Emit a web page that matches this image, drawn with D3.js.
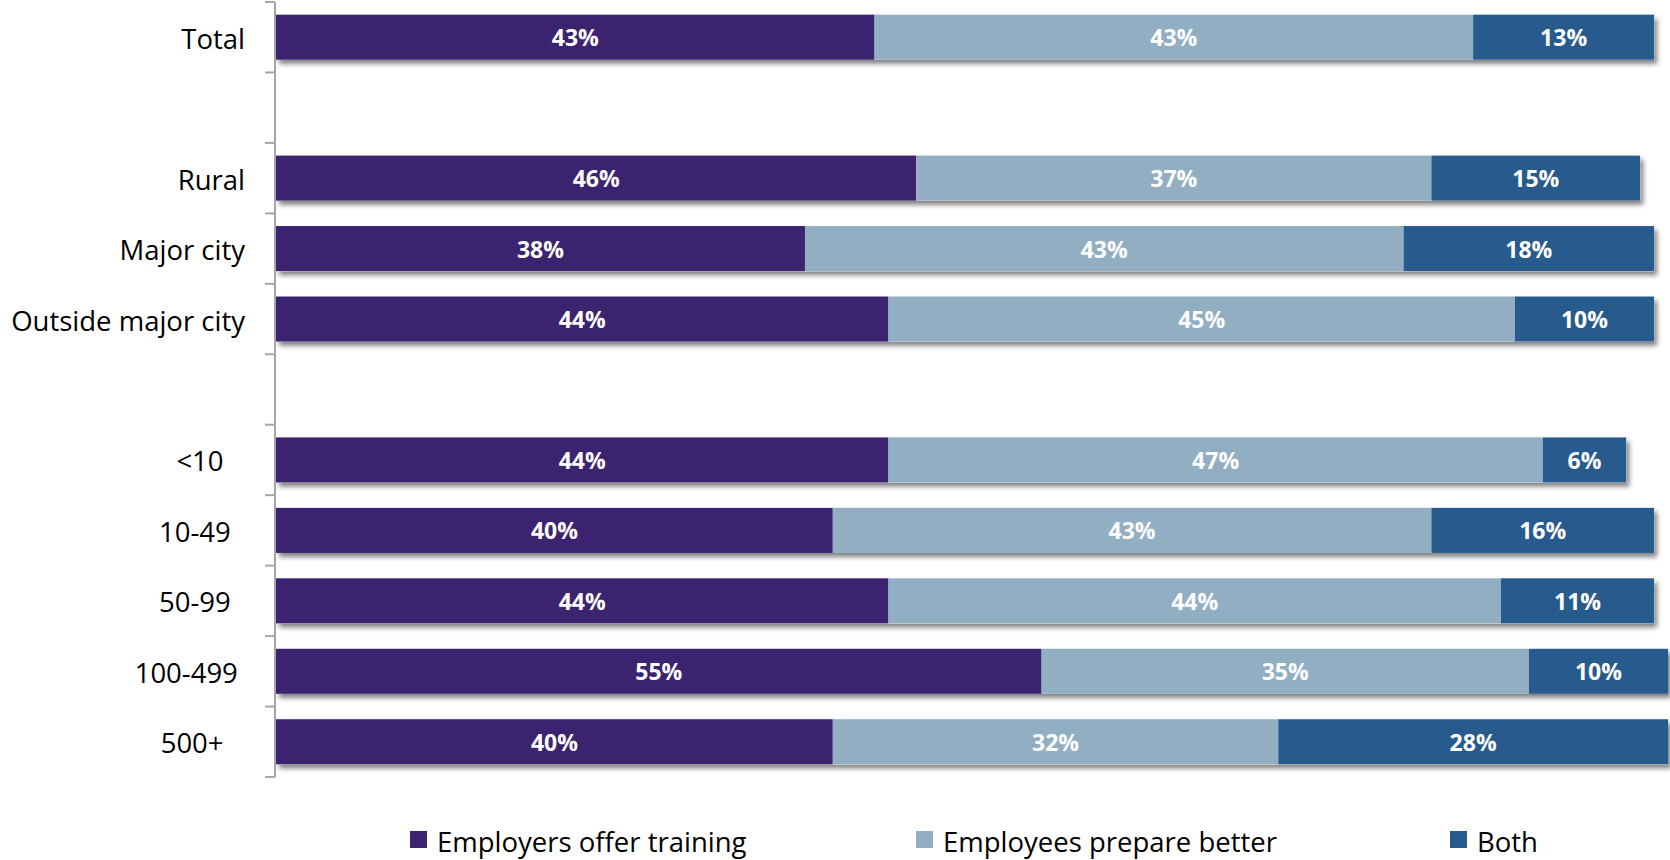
<!DOCTYPE html>
<html>
<head>
<meta charset="utf-8">
<script src="https://cdn.jsdelivr.net/npm/d3@7"></script>
<style>
  html, body { margin: 0; padding: 0; background: #fff; }
  svg { display: block; font-family: "Open Sans", "Noto Sans", sans-serif; }
  .cat { white-space: pre; }
</style>
</head>
<body>
<svg id="chart" width="1670" height="860"></svg>
<script>
// Row labels (empty rows are spacers between groups)
const categories = ["Total", "", "Rural", "Major city", "Outside major city", "",
                    "<10   ", "10-49  ", "50-99  ", "100-499 ", "500+   "];
const seriesNames = ["Employers offer training", "Employees prepare better", "Both"];
const employersOffer  = [43, null, 46, 38, 44, null, 44, 40, 44, 55, 40];
const employeesPrep   = [43, null, 37, 43, 45, null, 47, 43, 44, 35, 32];
const both            = [13, null, 15, 18, 10, null, 6, 16, 11, 10, 28];
const colors = ["#3B236F", "#91AEC3", "#275B8E"];

const svg = d3.select("#chart");
const axisX = 275;

const defs = svg.append("defs");
const f = defs.append("filter").attr("id", "shadow")
  .attr("x", "-5%").attr("y", "-20%").attr("width", "110%").attr("height", "160%");
f.append("feDropShadow").attr("dx", 3).attr("dy", 4).attr("stdDeviation", 2.4)
  .attr("flood-color", "#000").attr("flood-opacity", 0.5);

const x = d3.scaleLinear().domain([0, 100]).range([276, 1668]);
const y = d3.scaleBand().domain(d3.range(categories.length)).range([2, 777])
  .paddingInner(0.36).paddingOuter(0.18);
const step = y.step();

// Stack the three series per row
const rows = categories.map((c, i) => ({
  i, cat: c, vals: [employersOffer[i], employeesPrep[i], both[i]]
})).filter(r => r.vals[0] !== null);

const rowG = svg.append("g").selectAll("g").data(rows).join("g")
  .attr("transform", d => `translate(0,${y(d.i)})`);

// Shadow drawn once per full bar, segments on top
rowG.append("rect")
  .attr("x", x(0)).attr("y", 0)
  .attr("width", d => x(d3.sum(d.vals)) - x(0))
  .attr("height", y.bandwidth())
  .attr("fill", "#fff")
  .attr("filter", "url(#shadow)");

rowG.each(function(d) {
  const g = d3.select(this);
  let acc = 0;
  d.vals.forEach((v, k) => {
    const x0 = x(acc), x1 = x(acc + v);
    g.append("rect").attr("x", x0).attr("y", 0)
      .attr("width", x1 - x0).attr("height", y.bandwidth())
      .attr("fill", colors[k]);
    g.append("text")
      .attr("x", (x0 + x1) / 2).attr("y", y.bandwidth() / 2)
      .attr("text-anchor", "middle").attr("dominant-baseline", "central")
      .attr("fill", "#fff").attr("font-weight", 700).attr("font-size", 23)
      .text(v + "%");
    acc += v;
  });
});

// Category axis
const axisG = svg.append("g");
axisG.append("line").attr("x1", axisX).attr("x2", axisX).attr("y1", 2).attr("y2", 777)
  .attr("stroke", "#A6A6A6").attr("stroke-width", 2);
d3.range(categories.length + 1).forEach(k => {
  const yy = 2 + k * step;
  axisG.append("line").attr("x1", axisX - 10).attr("x2", axisX).attr("y1", yy).attr("y2", yy)
    .attr("stroke", "#A6A6A6").attr("stroke-width", 2);
});
axisG.selectAll("text.cat").data(categories.map((c, i) => ({c, i})).filter(d => d.c))
  .join("text").attr("class", "cat")
  .attr("x", 245).attr("y", d => y(d.i) + y.bandwidth() / 2 + 1)
  .attr("text-anchor", "end").attr("dominant-baseline", "central")
  .attr("font-size", 27.5).attr("fill", "#000")
  .text(d => d.c);

// Legend
const legendX = [410, 916, 1450];
const leg = svg.append("g").selectAll("g").data(seriesNames).join("g")
  .attr("transform", (d, i) => `translate(${legendX[i]},840)`);
leg.append("rect").attr("x", 0).attr("y", -9).attr("width", 17).attr("height", 17)
  .attr("fill", (d, i) => colors[i]);
leg.append("text").attr("x", 27).attr("y", 1).attr("dominant-baseline", "central")
  .attr("font-size", 27.5).attr("fill", "#000").text(d => d);
</script>
</body>
</html>
